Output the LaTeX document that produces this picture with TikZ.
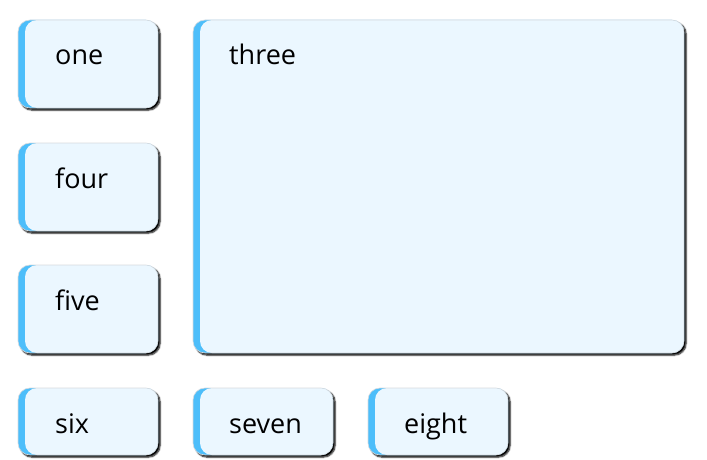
\documentclass[tikz,border=0pt]{standalone}
\usepackage{fontspec}
\setmainfont{Open Sans}
\usetikzlibrary{shadows.blur}
\definecolor{stripe}{RGB}{77,190,250}
\definecolor{cardfill}{RGB}{235,247,255}
\definecolor{cardedge}{RGB}{214,218,222}
\tikzset{
  card/.style={rectangle, rounded corners=12pt, inner sep=0pt, outer sep=0pt,
    fill=stripe, draw=cardedge, line width=0.6pt,
    blur shadow={shadow xshift=2.2pt, shadow yshift=-2.2pt, shadow blur radius=1.4pt, shadow opacity=100, shadow blur steps=6},
    path picture={\fill[cardfill, rounded corners=12pt]
      ([xshift=7pt]path picture bounding box.south west) rectangle (path picture bounding box.north east);}},
  lbl/.style={font=\fontsize{27}{32}\selectfont, text=black, inner sep=0pt, anchor=base west}
}
\begin{document}
\begin{tikzpicture}[x=1pt,y=-1pt]
\useasboundingbox (0,0) rectangle (707,460);
\node[card, minimum width=140pt, minimum height=88pt, anchor=north west] (one) at (18,20) {};
\node[card, minimum width=140pt, minimum height=88pt, anchor=north west] (four) at (18,143) {};
\node[card, minimum width=140pt, minimum height=88pt, anchor=north west] (five) at (18,265) {};
\node[card, minimum width=491pt, minimum height=333pt, anchor=north west] (three) at (193,20) {};
\node[card, minimum width=140pt, minimum height=67pt, anchor=north west] (six) at (18,388) {};
\node[card, minimum width=140pt, minimum height=67pt, anchor=north west] (seven) at (193,388) {};
\node[card, minimum width=140pt, minimum height=67pt, anchor=north west] (eight) at (368,388) {};
\node[lbl] (tone) at ([xshift=37pt,yshift=-45pt]one.north west) {one};
\node[lbl] (tfour) at ([xshift=37pt,yshift=-45pt]four.north west) {four};
\node[lbl] (tfive) at ([xshift=37pt,yshift=-45pt]five.north west) {five};
\node[lbl] (tthree) at ([xshift=36pt,yshift=-45pt]three.north west) {three};
\node[lbl] (tsix) at ([xshift=37pt,yshift=-45pt]six.north west) {six};
\node[lbl] (tseven) at ([xshift=36pt,yshift=-45pt]seven.north west) {seven};
\node[lbl] (teight) at ([xshift=36pt,yshift=-45pt]eight.north west) {eight};
\end{tikzpicture}
\end{document}
